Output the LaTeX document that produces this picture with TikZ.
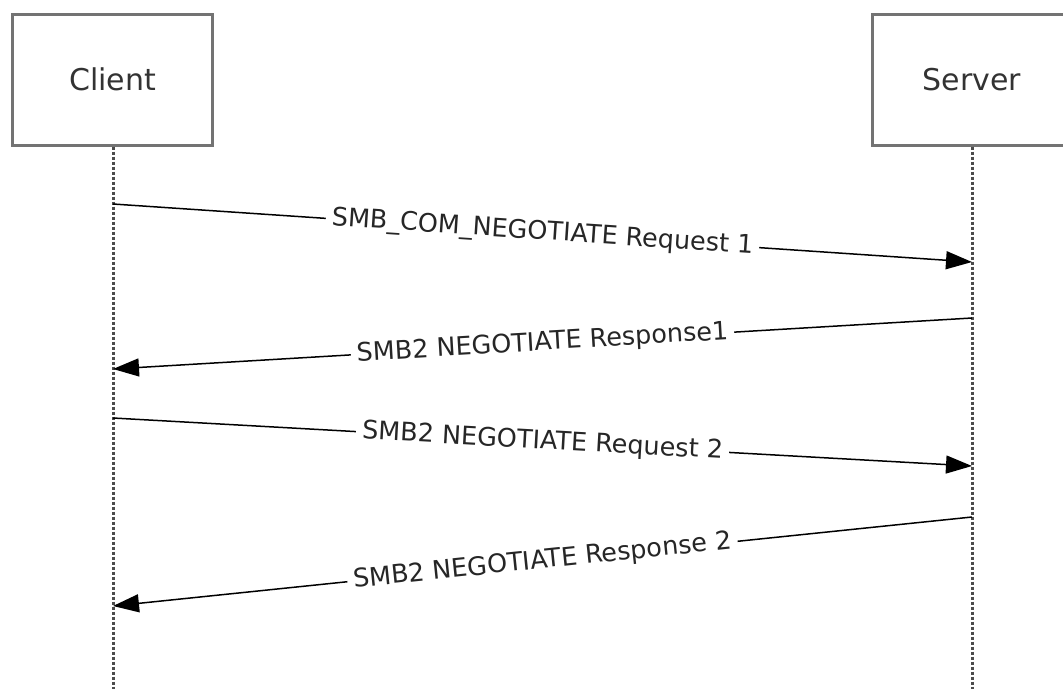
\documentclass[tikz,border=0pt]{standalone}
\usepackage{fontspec}
\setmainfont{DejaVu Sans}
\usetikzlibrary{arrows.meta}

\tikzset{
  party/.style={draw=black!55, line width=3pt, fill=white, minimum width=199.5pt,
    minimum height=131pt, inner sep=0pt, text=black!80, font=\fontsize{30}{36}\selectfont},
  lifeline/.style={draw=black!70, line width=3pt, dash pattern=on 3pt off 2pt},
  msg/.style={line width=1.5pt, -{Triangle[length=26pt, width=18pt]}},
  msglabel/.style={midway, sloped, fill=white, inner xsep=6pt, inner ysep=2pt,
    text=black!85, font=\fontsize{25.5}{30}\selectfont}
}

\begin{document}
\begin{tikzpicture}[x=1pt, y=-1pt]

% Frame
\useasboundingbox (0, 0) rectangle (1063, 689);
\clip (0, 0) rectangle (1063, 689);

% Boxes
\node[party] (client) at (112.5, 79.5) {Client};
\node[party] (server) at (972, 79.5) {Server};

% Lifelines
\coordinate (clientend) at (113, 689);
\coordinate (serverend) at (972, 689);
\draw[lifeline] (client.south -| clientend) -- (clientend);
\draw[lifeline] (server.south -| serverend) -- (serverend);

% Message points
\coordinate (c1) at (113, 204);
\coordinate (s1) at (972, 262);
\coordinate (s2) at (972, 318);
\coordinate (c2) at (113, 369);
\coordinate (c3) at (113, 418);
\coordinate (s3) at (972, 466);
\coordinate (s4) at (972, 517);
\coordinate (c4) at (113, 606);

% Messages
\draw[msg] (c1) -- (s1) node[msglabel] {SMB\_COM\_NEGOTIATE Request 1};
\draw[msg] (s2) -- (c2) node[msglabel] {SMB2 NEGOTIATE Response1};
\draw[msg] (c3) -- (s3) node[msglabel] {SMB2 NEGOTIATE Request 2};
\draw[msg] (s4) -- (c4) node[msglabel] {SMB2 NEGOTIATE Response 2};

\end{tikzpicture}
\end{document}
